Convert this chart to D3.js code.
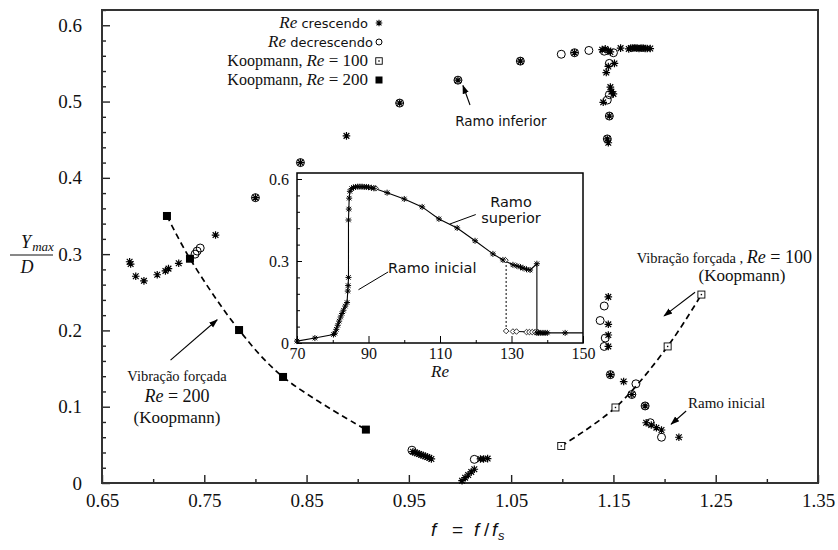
<!DOCTYPE html>
<html>
<head>
<meta charset="utf-8">
<script src="https://cdn.jsdelivr.net/npm/d3@7/dist/d3.min.js"></script>
<style>
  body { margin: 0; background: #fff; }
  svg { display: block; }
  .serif { font-family: "Liberation Serif", "Times New Roman", serif; }
  .sans { font-family: "DejaVu Sans", sans-serif; }
</style>
</head>
<body>
<svg id="chart" width="838" height="550"></svg>
<script>
// ---- Main plot: amplitude vs frequency ratio ----
const xTickValues = [0.65, 0.75, 0.85, 0.95, 1.05, 1.15, 1.25, 1.35];
const xTickLabels = ["0.65", "0.75", "0.85", "0.95", "1.05", "1.15", "1.25", "1.35"];
const xMinorTicks = [0.70, 0.80, 0.90, 1.00, 1.10, 1.20, 1.30];
const yTickValues = [0, 0.1, 0.2, 0.3, 0.4, 0.5, 0.6];
const yTickLabels = ["0", "0.1", "0.2", "0.3", "0.4", "0.5", "0.6"];
const yMinorStep = 0.02;

// Re increasing (asterisks) [f/fs, Ymax/D]
const reCrescendo = [
  [0.677, 0.290], [0.678, 0.287], [0.683, 0.271], [0.691, 0.265], [0.704, 0.273],
  [0.712, 0.278], [0.715, 0.281], [0.725, 0.288], [0.761, 0.325],
  [0.800, 0.374], [0.844, 0.420], [0.889, 0.455], [0.941, 0.498], [0.998, 0.528], [1.059, 0.553],
  [1.112, 0.564], [1.139, 0.568], [1.142, 0.569], [1.145, 0.567], [1.147, 0.565], [1.157, 0.570],
  [1.165, 0.569], [1.167, 0.570], [1.169, 0.570], [1.171, 0.5705], [1.173, 0.570], [1.175, 0.5695],
  [1.177, 0.570], [1.179, 0.570], [1.181, 0.5695], [1.183, 0.5695], [1.186, 0.5695],
  [1.151, 0.550], [1.145, 0.546], [1.143, 0.538], [1.147, 0.519], [1.148, 0.513], [1.150, 0.510],
  [1.140, 0.499], [1.146, 0.481], [1.144, 0.451], [1.145, 0.446],
  [1.145, 0.244], [1.145, 0.208], [1.145, 0.194], [1.145, 0.179], [1.147, 0.142], [1.160, 0.133],
  [1.168, 0.116], [1.181, 0.101], [1.182, 0.079], [1.187, 0.076], [1.192, 0.0725], [1.197, 0.0695],
  [1.214, 0.060],
  [0.954, 0.041], [0.956, 0.040], [0.958, 0.039], [0.960, 0.038], [0.962, 0.037], [0.964, 0.036],
  [0.966, 0.035], [0.968, 0.034], [0.970, 0.033], [0.972, 0.0315],
  [1.020, 0.0315], [1.023, 0.0315], [1.027, 0.032],
  [1.002, 0.003], [1.005, 0.007], [1.008, 0.0105], [1.011, 0.0145], [1.014, 0.018]
];

// Re decreasing (open circles)
const reDecrescendo = [
  [0.741, 0.300], [0.743, 0.304], [0.746, 0.308],
  [0.800, 0.374], [0.844, 0.420], [0.941, 0.498], [0.998, 0.528], [1.059, 0.553],
  [1.099, 0.562], [1.112, 0.564], [1.126, 0.567], [1.141, 0.566], [1.150, 0.564],
  [1.146, 0.550], [1.146, 0.509], [1.144, 0.502], [1.146, 0.481], [1.144, 0.451],
  [1.141, 0.232], [1.137, 0.213], [1.142, 0.190], [1.141, 0.179], [1.147, 0.142],
  [1.172, 0.130], [1.168, 0.116], [1.181, 0.101], [1.186, 0.079], [1.197, 0.060],
  [0.953, 0.043], [1.014, 0.031]
];

// Forced vibration (Koopmann)
const koopmann100 = [[1.099, 0.0485], [1.152, 0.099], [1.203, 0.179], [1.236, 0.247]];
const koopmann200 = [[0.7135, 0.350], [0.736, 0.294], [0.784, 0.2005], [0.827, 0.139], [0.908, 0.070]];

// ---- Inset: amplitude vs Re ----
const insetXTicks = [70, 90, 110, 130, 150];
const insetXMinor = [80, 100, 120, 140];
const insetYTicks = [0, 0.3, 0.6];
const insetYTickLabels = ["0", "0.3", "0.6"];
const insetYMinorStep = 0.06;

const insetCrescendo = [
  [70, 0.007], [75, 0.018], [80.2, 0.031], [80.6, 0.036], [81, 0.05], [81.4, 0.065], [81.8, 0.08],
  [82.2, 0.095], [82.6, 0.108], [83, 0.12], [83.5, 0.135], [84, 0.148], [84.2, 0.19], [84.3, 0.21],
  [84.4, 0.24], [84.4, 0.45], [84.5, 0.49], [84.6, 0.53], [84.8, 0.555], [85.3, 0.565], [85.8, 0.569],
  [86.4, 0.571], [87, 0.572], [87.6, 0.572], [88.2, 0.572], [88.8, 0.571], [89.4, 0.571], [90, 0.57],
  [90.8, 0.568], [91.5, 0.566], [95.2, 0.55], [100, 0.527], [105, 0.498], [109.7, 0.454],
  [114.8, 0.421], [119.8, 0.374], [124.8, 0.326], [127.6, 0.304], [130.4, 0.286], [131.5, 0.282],
  [132.5, 0.278], [133.2, 0.274], [134.2, 0.27], [135.2, 0.267], [137.1, 0.29], [137.1, 0.037],
  [137.6, 0.037], [138.2, 0.037], [138.8, 0.037], [139.4, 0.037], [140, 0.037], [145, 0.037]
];
const insetLineEnd = [150, 0.037];
const insetDecrescendo = [
  [92, 0.566], [128.3, 0.303], [128.5, 0.044], [130.4, 0.042], [131.4, 0.042],
  [134.2, 0.04], [135, 0.04], [135.8, 0.04], [136.6, 0.04], [137.4, 0.04]
];
const insetJump = [[128.5, 0.044], [128.5, 0.30]];
const insetLowBranch = [[131.4, 0.042], [137.4, 0.04]];

// ---- Legend entries ----
const legendItems = [
  { pre: "", re: "Re", post: " crescendo", kind: "star" },
  { pre: "", re: "Re", post: " decrescendo", kind: "circle" },
  { pre: "Koopmann, ", re: "Re", post: " = 100", kind: "openSquare" },
  { pre: "Koopmann, ", re: "Re", post: " = 200", kind: "filledSquare" }
];

const svg = d3.select("#chart");

const x = d3.scaleLinear().domain([0.65, 1.35]).range([102, 818]);
const y = d3.scaleLinear().domain([0, 0.62]).range([483, 10]);

// arrowhead
svg.append("defs").append("marker")
  .attr("id", "arrow").attr("viewBox", "0 0 10 10")
  .attr("refX", 9).attr("refY", 5)
  .attr("markerWidth", 9).attr("markerHeight", 9)
  .attr("markerUnits", "userSpaceOnUse")
  .attr("orient", "auto")
  .append("path").attr("d", "M0,1.5 L10,5 L0,8.5 Z").attr("fill", "#000");

// Marker shapes
function star(g, r, sw) {
  const p = d3.path();
  p.moveTo(-r, 0); p.lineTo(r, 0);
  p.moveTo(0, -r); p.lineTo(0, r);
  const d = r * 0.75;
  p.moveTo(-d, -d); p.lineTo(d, d);
  p.moveTo(-d, d); p.lineTo(d, -d);
  g.append("path").attr("d", p.toString()).attr("stroke", "#000").attr("stroke-width", sw).attr("fill", "none");
}
function circle(g, r, sw) {
  g.append("circle").attr("r", r).attr("fill", "none").attr("stroke", "#000").attr("stroke-width", sw);
}
function openSquare(g, s) {
  g.append("rect").attr("x", -s / 2).attr("y", -s / 2).attr("width", s).attr("height", s)
    .attr("fill", "#fff").attr("stroke", "#000").attr("stroke-width", 0.9);
  g.append("rect").attr("x", -0.7).attr("y", -0.7).attr("width", 1.4).attr("height", 1.4).attr("fill", "#000");
}
function filledSquare(g, s) {
  g.append("rect").attr("x", -s / 2).attr("y", -s / 2).attr("width", s).attr("height", s).attr("fill", "#000");
}
function diamond(g, r) {
  g.append("path").attr("d", `M0,${-r} L${r},0 L0,${r} L${-r},0 Z`)
    .attr("fill", "#fff").attr("stroke", "#000").attr("stroke-width", 0.8);
}

// ---- Axes (ticks point inward) ----
const xAxis = svg.append("g").attr("transform", "translate(0,483)")
  .call(d3.axisBottom(x).tickValues(xTickValues).tickSize(-8).tickPadding(11)
    .tickFormat((d, i) => xTickLabels[i]));
svg.append("g").attr("transform", "translate(0,483)")
  .call(d3.axisBottom(x).tickValues(xMinorTicks).tickSize(-4).tickFormat(""));

const yMinor = d3.range(0, 0.6201, yMinorStep).filter(v => !yTickValues.some(t => Math.abs(t - v) < 1e-6));
const yAxis = svg.append("g").attr("transform", "translate(102,0)")
  .call(d3.axisLeft(y).tickValues(yTickValues).tickSize(-8).tickPadding(20)
    .tickFormat((d, i) => yTickLabels[i]));
svg.append("g").attr("transform", "translate(102,0)")
  .call(d3.axisLeft(y).tickValues(yMinor).tickSize(-4).tickFormat(""));

svg.selectAll(".domain").remove();
svg.selectAll(".tick line").attr("stroke", "#222").attr("stroke-width", 1.4);
svg.selectAll(".tick text").attr("class", "serif").attr("font-size", 19).attr("fill", "#111");

// frame
svg.append("rect").attr("x", 102).attr("y", 10).attr("width", 716).attr("height", 473)
  .attr("fill", "none").attr("stroke", "#333").attr("stroke-width", 2);

// axis titles
const yl = svg.append("g").attr("class", "serif").attr("font-style", "italic").attr("fill", "#111");
yl.append("text").attr("x", 26).attr("y", 248).attr("text-anchor", "middle").attr("font-size", 18).text("Y");
yl.append("text").attr("x", 43).attr("y", 251).attr("text-anchor", "middle").attr("font-size", 13).text("max");
yl.append("line").attr("x1", 10).attr("x2", 53).attr("y1", 255).attr("y2", 255).attr("stroke", "#111").attr("stroke-width", 1);
yl.append("text").attr("x", 27).attr("y", 273).attr("text-anchor", "middle").attr("font-size", 18).text("D");

const xl = svg.append("text").attr("y", 536).attr("font-family", "'Liberation Sans', Arial, sans-serif")
  .attr("font-style", "italic").attr("font-size", 19).attr("fill", "#111");
xl.append("tspan").attr("x", 431).text("f");
xl.append("tspan").attr("x", 452).attr("font-style", "normal").text("=");
xl.append("tspan").attr("x", 474).text("f");
xl.append("tspan").attr("x", 484).attr("font-style", "normal").text("/");
xl.append("tspan").attr("x", 492).text("f");
xl.append("tspan").attr("x", 498).attr("dy", 4).attr("font-size", 13).text("s");

// ---- Koopmann dashed curves ----
const line = d3.line().x(d => x(d[0])).y(d => y(d[1])).curve(d3.curveCatmullRom.alpha(0.5));
[koopmann200, koopmann100].forEach(s => {
  svg.append("path").attr("d", line(s)).attr("fill", "none").attr("stroke", "#000")
    .attr("stroke-width", 1.7).attr("stroke-dasharray", "6,4");
});

// ---- Data points ----
const pts = svg.append("g");
reDecrescendo.forEach(d => circle(pts.append("g").attr("transform", `translate(${x(d[0])},${y(d[1])})`), 4, 1));
reCrescendo.forEach(d => star(pts.append("g").attr("transform", `translate(${x(d[0])},${y(d[1])})`), 3.8, 1.2));
koopmann100.forEach(d => openSquare(pts.append("g").attr("transform", `translate(${x(d[0])},${y(d[1])})`), 7));
koopmann200.forEach(d => filledSquare(pts.append("g").attr("transform", `translate(${x(d[0])},${y(d[1])})`), 8));

// ---- Inset ----
const ix = d3.scaleLinear().domain([70, 150]).range([297, 583]);
const iy = d3.scaleLinear().domain([0, 0.622]).range([343, 173]);
const inset = svg.append("g");
inset.append("rect").attr("x", 297).attr("y", 173).attr("width", 286).attr("height", 170).attr("fill", "#fff");

const ixAxis = inset.append("g").attr("transform", "translate(0,343)")
  .call(d3.axisBottom(ix).tickValues(insetXTicks).tickSize(-7).tickPadding(5).tickFormat(d3.format("d")));
inset.append("g").attr("transform", "translate(0,343)")
  .call(d3.axisBottom(ix).tickValues(insetXMinor).tickSize(-3).tickFormat(""));
const iyMinor = d3.range(0, 0.6201, insetYMinorStep);
const iyAxis = inset.append("g").attr("transform", "translate(297,0)")
  .call(d3.axisLeft(iy).tickValues(insetYTicks).tickSize(-5).tickPadding(8)
    .tickFormat((d, i) => insetYTickLabels[i]));
inset.append("g").attr("transform", "translate(297,0)")
  .call(d3.axisLeft(iy).tickValues(iyMinor).tickSize(-3).tickFormat(""));
inset.selectAll(".domain").remove();
inset.selectAll(".tick line").attr("stroke", "#000").attr("stroke-width", 1);
inset.selectAll(".tick text").attr("class", "serif").attr("font-size", 16).attr("fill", "#111");

inset.append("text").attr("class", "serif").attr("font-style", "italic").attr("font-size", 17)
  .attr("x", ix(110)).attr("y", 377).attr("text-anchor", "middle").attr("fill", "#111").text("Re");

const iline = d3.line().x(d => ix(d[0])).y(d => iy(d[1]));
inset.append("path").attr("d", iline(insetCrescendo.concat([insetLineEnd])))
  .attr("fill", "none").attr("stroke", "#000").attr("stroke-width", 1.1);
inset.append("path").attr("d", iline(insetLowBranch))
  .attr("fill", "none").attr("stroke", "#000").attr("stroke-width", 1);
inset.append("path").attr("d", iline(insetJump))
  .attr("fill", "none").attr("stroke", "#000").attr("stroke-width", 1).attr("stroke-dasharray", "2,2");
insetDecrescendo.forEach(d => diamond(inset.append("g").attr("transform", `translate(${ix(d[0])},${iy(d[1])})`), 2.8));
insetCrescendo.forEach(d => star(inset.append("g").attr("transform", `translate(${ix(d[0])},${iy(d[1])})`), 3, 1));

inset.append("rect").attr("x", 297).attr("y", 173).attr("width", 286).attr("height", 170)
  .attr("fill", "none").attr("stroke", "#000").attr("stroke-width", 1.5);

// inset callouts
const ic = inset.append("g").attr("class", "sans").attr("font-size", 14.5).attr("fill", "#111");
ic.append("text").attr("x", 511).attr("y", 207).attr("text-anchor", "middle").text("Ramo");
ic.append("text").attr("x", 511).attr("y", 223).attr("text-anchor", "middle").text("superior");
inset.append("line").attr("x1", ix(120)).attr("y1", iy(0.47)).attr("x2", ix(112.7)).attr("y2", iy(0.435))
  .attr("stroke", "#000").attr("stroke-width", 1);
ic.append("text").attr("x", 388).attr("y", 273).text("Ramo inicial");
inset.append("line").attr("x1", ix(95.5)).attr("y1", iy(0.26)).attr("x2", ix(87.2)).attr("y2", iy(0.195))
  .attr("stroke", "#000").attr("stroke-width", 1);

// ---- Main annotations ----
function arrow(fromF, fromY, toF, toY) {
  svg.append("line").attr("x1", x(fromF)).attr("y1", y(fromY)).attr("x2", x(toF)).attr("y2", y(toY))
    .attr("stroke", "#000").attr("stroke-width", 1.1).attr("marker-end", "url(#arrow)");
}

svg.append("text").attr("class", "sans").attr("font-size", 13.5).attr("fill", "#111")
  .attr("x", x(1.040)).attr("y", 126).attr("text-anchor", "middle").text("Ramo inferior");
arrow(1.0098, 0.4955, 1.0029, 0.521);

const a200 = svg.append("g").attr("class", "serif").attr("fill", "#111").attr("text-anchor", "middle");
a200.append("text").attr("x", 177).attr("y", 381).attr("font-size", 14.5).text("Vibração forçada");
const r200 = a200.append("text").attr("x", 177).attr("y", 402).attr("font-size", 18);
r200.append("tspan").attr("font-style", "italic").text("Re");
r200.append("tspan").text(" = 200");
a200.append("text").attr("x", 177).attr("y", 423).attr("font-size", 17).text("(Koopmann)");
arrow(0.7170, 0.161, 0.7626, 0.214);

const a100 = svg.append("g").attr("class", "serif").attr("fill", "#111");
const t100 = a100.append("text").attr("x", 812).attr("y", 263).attr("text-anchor", "end");
t100.append("tspan").attr("font-size", 14.5).text("Vibração forçada , ");
t100.append("tspan").attr("font-size", 18).attr("font-style", "italic").text("Re");
t100.append("tspan").attr("font-size", 18).text(" = 100");
a100.append("text").attr("x", 742).attr("y", 281).attr("text-anchor", "middle").attr("font-size", 17).text("(Koopmann)");
arrow(1.2298, 0.250, 1.1995, 0.219);

svg.append("text").attr("class", "serif").attr("font-size", 15).attr("fill", "#111")
  .attr("x", 688).attr("y", 408).text("Ramo inicial");
arrow(1.2211, 0.0944, 1.2064, 0.077);

// ---- Legend ----
const lg = svg.append("g");
legendItems.forEach((it, i) => {
  const base = 28 + i * 19;
  const t = lg.append("text").attr("x", i === 1 ? 373 : 368).attr("y", base).attr("text-anchor", "end").attr("fill", "#111");
  if (it.pre) t.append("tspan").attr("class", "serif").attr("font-size", 16).text(it.pre);
  t.append("tspan").attr("class", "serif").attr("font-style", "italic").attr("font-size", 17).text(it.re);
  if (it.kind === "star" || it.kind === "circle") {
    t.append("tspan").attr("class", "sans").attr("font-size", 13).text(it.post);
  } else {
    t.append("tspan").attr("class", "serif").attr("font-size", 17).text(it.post);
  }
  const m = lg.append("g").attr("transform", `translate(379,${base - 5})`);
  if (it.kind === "star") star(m, 3.3, 1.1);
  else if (it.kind === "circle") circle(m, 3, 1);
  else if (it.kind === "openSquare") openSquare(m, 6.5);
  else filledSquare(m, 7);
});
</script>
</body>
</html>
